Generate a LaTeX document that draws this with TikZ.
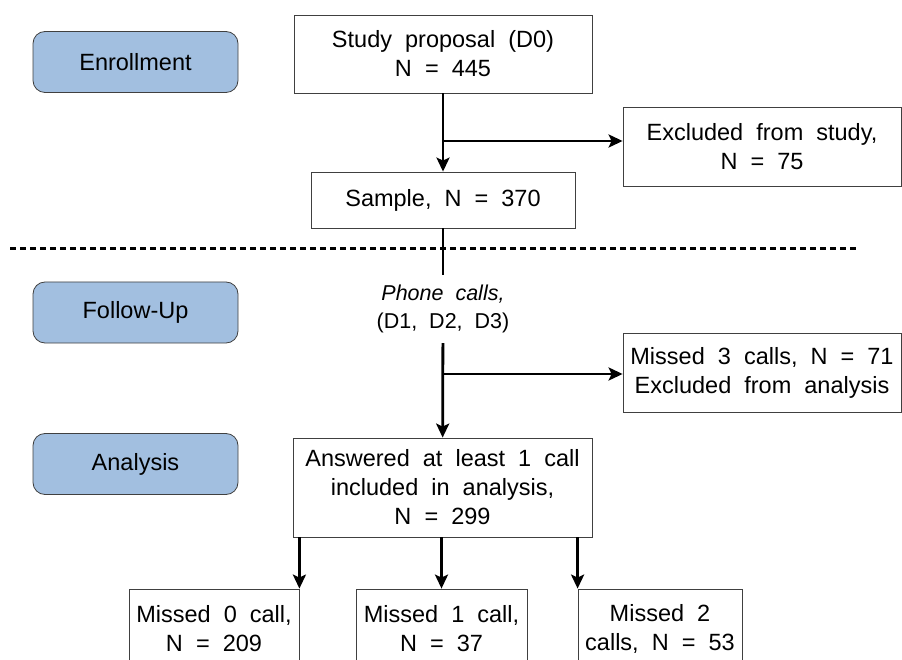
\documentclass[tikz,border=0pt]{standalone}
\usepackage{fontspec}
\setmainfont{Liberation Sans}[WordSpace=2]
\usetikzlibrary{arrows.meta}
\definecolor{stageblue}{RGB}{162,191,224}

\begin{document}
\begin{tikzpicture}[x=1pt, y=-1pt, font=\fontsize{23.5}{29}\selectfont,
    stage/.style={draw=black!75, fill=stageblue, rounded corners=12pt, line width=0.8pt, minimum width=205pt, minimum height=61pt},
    box/.style={draw=black!75, fill=white, align=center, line width=0.8pt, inner sep=0pt},
    flow/.style={->, line width=2.8pt},
    >={Stealth[length=14pt, width=13pt, inset=3pt]}]
    \useasboundingbox (0,0) rectangle (902,660);
    \clip (0,0) rectangle (902,660);

    % stages
    \node[stage] (enroll) at (135.5, 62) {Enrollment};
    \node[stage] (follow) at (135.5, 312.5) {Follow-Up};
    \node[stage] (analysis) at (135.5, 464) {Analysis};

    % flow boxes
    \node[box, minimum width=298pt, minimum height=78pt] (proposal) at (443, 54) {Study proposal (D0)\\N = 445};
    \node[box, minimum width=264pt, minimum height=56pt] (sample) at (443, 200) {Sample, N = 370};
    \node[box, minimum width=278pt, minimum height=79pt] (excl) at (762, 146.5) {Excluded from study,\\N = 75};
    \node[inner sep=0pt, minimum height=68pt, align=center, font=\fontsize{21.5}{27.5}\selectfont] (phone) at (443, 309) {\textit{Phone calls,}\\(D1, D2, D3)};
    \node[box, minimum width=278pt, minimum height=79pt] (missed3) at (762, 372.5) {Missed 3 calls, N = 71\\Excluded from analysis};
    \node[box, minimum width=299pt, minimum height=99pt] (answered) at (442.5, 487.5) {Answered at least 1 call\\included in analysis,\\N = 299};
    \node[box, minimum width=170pt, minimum height=80pt] (missed0) at (214, 629) {Missed 0 call,\\N = 209};
    \node[box, minimum width=171pt, minimum height=80pt] (missed1) at (441.5, 629) {Missed 1 call,\\N = 37};
    \node[box, minimum width=164pt, minimum height=80pt] (missed2) at (660, 629) {Missed 2\\calls, N = 53};

    % separator
    \coordinate (sepL) at (10, 249);
    \coordinate (sepR) at (858, 249);
    \draw[line width=3pt, dash pattern=on 5.5pt off 4.5pt] (sepL) -- (sepR);

    % connectors
    \coordinate (fork1) at (443, 141);
    \coordinate (fork2) at (443, 374);
    \draw[flow] (proposal) -- (sample);
    \draw[flow] (fork1) -- (fork1 -| excl.west);
    \draw[line width=2.8pt] (sample) -- (phone);
    \draw[flow] (phone) -- (answered);
    \draw[flow] (fork2) -- (fork2 -| missed3.west);
    \draw[flow] (missed0.north east |- answered.south) -- (missed0.north east);
    \draw[flow] (answered.south -| missed1.north) -- (missed1.north);
    \draw[flow] (missed2.north west |- answered.south) -- (missed2.north west);
\end{tikzpicture}
\end{document}
